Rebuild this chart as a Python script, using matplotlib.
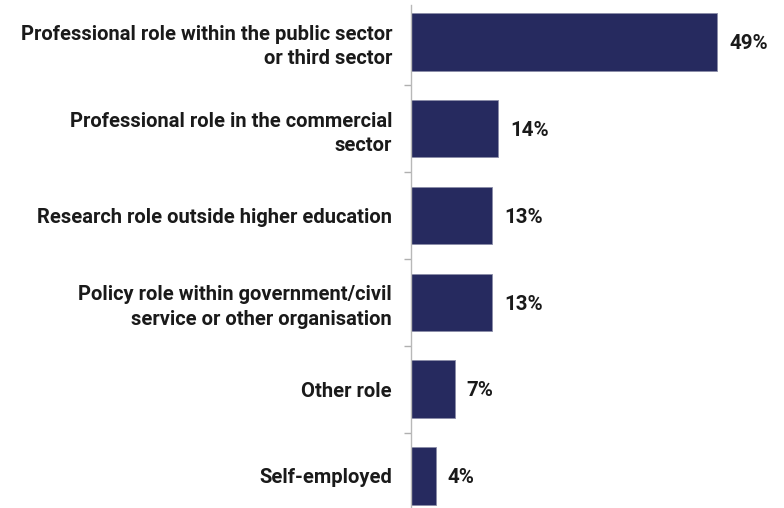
import matplotlib.pyplot as plt
import numpy as np

roles = ["Professional role within the public sector\nor third sector",
         "Professional role in the commercial\nsector",
         "Research role outside higher education",
         "Policy role within government/civil\nservice or other organisation",
         "Other role",
         "Self-employed"]
shares = [49, 14, 13, 13, 7, 4]

navy = '#262a5f'
plt.rcParams['font.family'] = ['Roboto', 'DejaVu Sans']

fig = plt.figure(figsize=(7.84, 5.08), dpi=100)
ax = fig.add_axes([0.524, 0.0, 0.476, 0.99])

y = np.arange(len(roles))
ax.barh(y, shares, height=0.66, color=navy, edgecolor='#8a8ca8', linewidth=0.6)

for yi, v in zip(y, shares):
    ax.text(v + 1.9, yi + 0.02, f"{v}%", va='center', ha='left',
            fontsize=14.8, fontweight='bold', color='#1a1a1a')

ax.set_xlim(0, 59.7)
ax.set_ylim(5.37, -0.426)

ax.set_yticks(y)
ax.set_yticklabels(roles, fontsize=14.5, fontweight='bold', color='#1a1a1a',
                   linespacing=1.35, ha='right')
ax.tick_params(axis='y', which='major', length=0, pad=13.5)
ax.set_yticks(y[:-1] + 0.5, minor=True)
ax.tick_params(axis='y', which='minor', length=5, width=1, color='#b0b0b0')

ax.set_xticks([])
for s in ['top', 'right', 'bottom']:
    ax.spines[s].set_visible(False)
ax.spines['left'].set_color('#b8b8b8')
ax.spines['left'].set_linewidth(1)

fig.savefig('out.png', dpi=100)
